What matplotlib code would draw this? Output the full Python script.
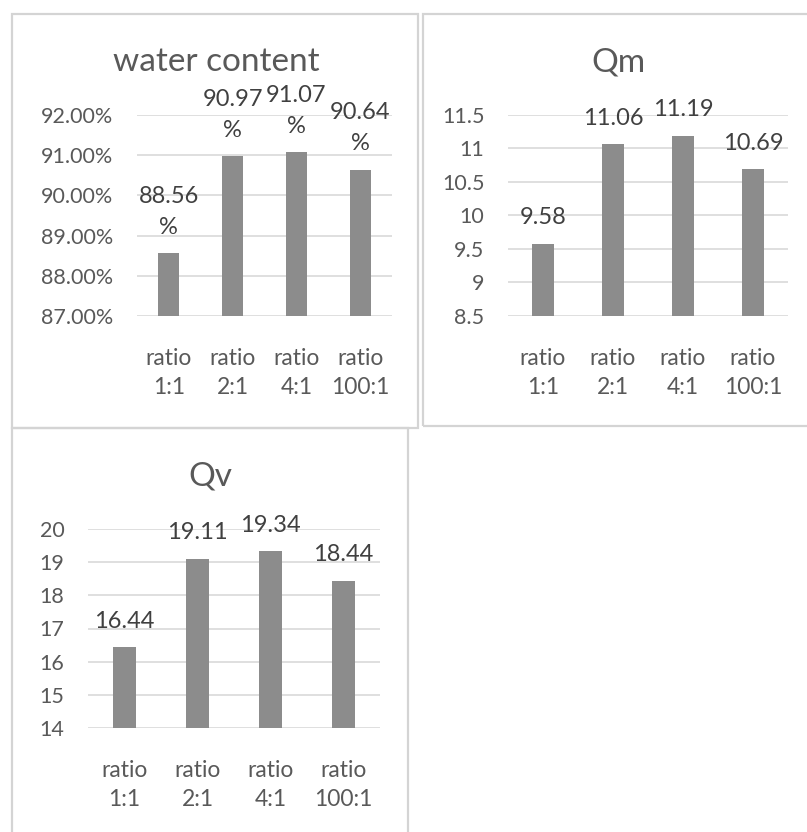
import matplotlib.pyplot as plt
from matplotlib.patches import Rectangle
from matplotlib.ticker import FuncFormatter

# Category labels shared by all three charts
ratios = ['ratio\n1:1', 'ratio\n2:1', 'ratio\n4:1', 'ratio\n100:1']

# Measured values
water_content = [0.8856, 0.9097, 0.9107, 0.9064]
qm = [9.58, 11.06, 11.19, 10.69]
qv = [16.44, 19.11, 19.34, 18.44]

W, H = 807, 832
plt.rcParams['font.family'] = ['Lato', 'DejaVu Sans']

fig = plt.figure(figsize=(W / 100, H / 100), dpi=100)
fig.patch.set_facecolor('white')

bar_color = '#8c8c8c'
tick_color = '#595959'
label_color = '#404040'
grid_color = '#d9d9d9'


def px_box(x0, y0, x1, y1):
    # convert a pixel box (top-left origin) to figure fractions
    return [x0 / W, 1 - y1 / H, (x1 - x0) / W, (y1 - y0) / H]


# panel frames
for x0, y0, x1, y1 in [(12, 14, 418, 428), (423, 14, 812, 426), (12, 428, 408, 840)]:
    fig.patches.append(Rectangle((x0 / W, 1 - y1 / H), (x1 - x0) / W, (y1 - y0) / H,
                                 transform=fig.transFigure, fill=False,
                                 edgecolor='#d4d4d4', linewidth=1.6))


def bar_chart(box, values, ylim, step, title, title_xy, fmt, label_fmt, bar_w):
    ax = fig.add_axes(px_box(*box))
    x = range(len(values))
    ax.bar(x, values, width=bar_w, color=bar_color, zorder=3)
    ax.set_xlim(-0.5, len(values) - 0.5)
    ax.set_ylim(*ylim)
    ticks = []
    t = ylim[0]
    while t <= ylim[1] + 1e-9:
        ticks.append(t)
        t += step
    ax.set_yticks(ticks)
    ax.yaxis.set_major_formatter(FuncFormatter(fmt))
    ax.grid(axis='y', color=grid_color, linewidth=1.2, zorder=0)
    for s in ax.spines.values():
        s.set_visible(False)
    ax.tick_params(length=0, colors=tick_color, labelsize=15.5)
    ax.tick_params(axis='y', pad=17)
    ax.set_xticks(list(x))
    ax.set_xticklabels(ratios, linespacing=1.45, fontsize=16.5)
    ax.tick_params(axis='x', pad=23)
    for xi, v in zip(x, values):
        ax.annotate(label_fmt(v), (xi, v), xytext=(0, 11), textcoords='offset points',
                    ha='center', va='bottom', fontsize=17, color=label_color,
                    linespacing=1.6)
    fig.text(title_xy[0] / W, 1 - title_xy[1] / H, title, ha='center', va='center',
             fontsize=24, color=tick_color)
    return ax


bar_chart((137, 115, 392, 316), water_content, (0.87, 0.92), 0.01, 'water content',
          (216, 62), lambda v, p: f'{v * 100:.2f}%', lambda v: f'{v * 100:.2f}\n%', 0.33)
bar_chart((508, 115, 788, 316), qm, (8.5, 11.5), 0.5, 'Qm',
          (618, 62), lambda v, p: f'{v:g}', lambda v: f'{v:.2f}', 0.31)
bar_chart((88, 529, 380, 728), qv, (14, 20), 1, 'Qv',
          (210, 477), lambda v, p: f'{v:g}', lambda v: f'{v:.2f}', 0.31)

fig.savefig('out.png', dpi=100)
